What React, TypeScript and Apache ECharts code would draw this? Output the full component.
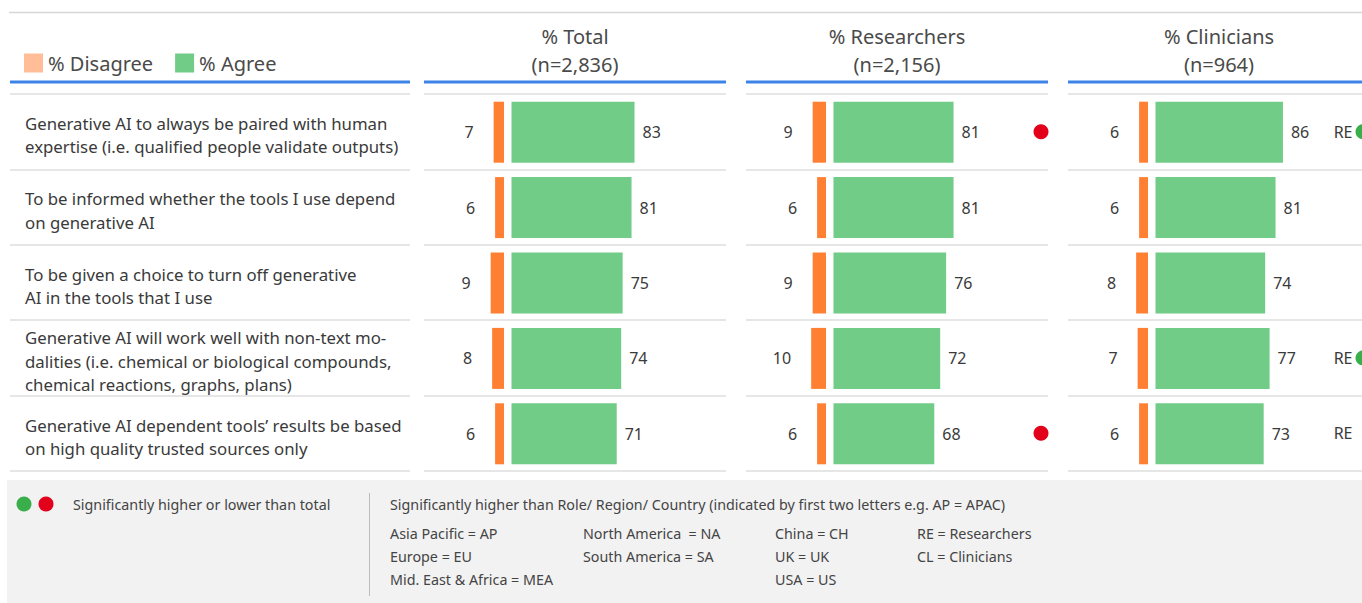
import React, { useEffect, useRef } from "react";
import * as echarts from "echarts";

const categories = [
  "Generative AI to always be paired with human\nexpertise (i.e. qualified people validate outputs)",
  "To be informed whether the tools I use depend\non generative AI",
  "To be given a choice to turn off generative\nAI in the tools that I use",
  "Generative AI will work well with non-text mo-\ndalities (i.e. chemical or biological compounds,\nchemical reactions, graphs, plans)",
  "Generative AI dependent tools’ results be based\non high quality trusted sources only",
];

const panelTitles = ["% Total\n(n=2,836)", "% Researchers\n(n=2,156)", "% Clinicians\n(n=964)"];

const totalDisagree = [7, 6, 9, 8, 6];
const totalAgree = [83, 81, 75, 74, 71];
const researchersDisagree = [9, 6, 9, 10, 6];
const researchersAgree = [81, 81, 76, 72, 68];
const cliniciansDisagree = [6, 6, 8, 7, 6];
const cliniciansAgree = [86, 81, 74, 77, 73];

// significance markers per row: dot colour ("higher" / "lower" / "") and letter label
const totalSigDot = ["", "", "", "", ""];
const totalSigLabel = ["", "", "", "", ""];
const researchersSigDot = ["lower", "", "", "", "lower"];
const researchersSigLabel = ["", "", "", "", ""];
const cliniciansSigDot = ["higher", "", "", "higher", ""];
const cliniciansSigLabel = ["RE", "", "", "RE", "RE"];

const footerLeft = "Significantly higher or lower than total";
const footerTitle = "Significantly higher than Role/ Region/ Country (indicated by first two letters e.g. AP = APAC)";
const footerColumns = [
  ["Asia Pacific = AP", "Europe = EU", "Mid. East & Africa = MEA"],
  ["North America  = NA", "South America = SA"],
  ["China = CH", "UK = UK", "USA = US"],
  ["RE = Researchers", "CL = Clinicians"],
];

const FONT = '"Noto Sans", "Open Sans", sans-serif';
const ORANGE = "#FF7F33";
const PEACH = "#FFBE98";
const GREEN = "#71CC87";
const SIG_GREEN = "#3AAE4B";
const SIG_RED = "#E2001A";
const TEXT = "#3A3A3A";
const SEP = "#E6E6E6";
const BLUE = "#3D84E8";

const panels = [
  { disagree: totalDisagree, agree: totalAgree, sigDot: totalSigDot, sigLabel: totalSigLabel },
  { disagree: researchersDisagree, agree: researchersAgree, sigDot: researchersSigDot, sigLabel: researchersSigLabel },
  { disagree: cliniciansDisagree, agree: cliniciansAgree, sigDot: cliniciansSigDot, sigLabel: cliniciansSigLabel },
];

const PANEL_LEFT = [424, 746, 1068];
const PANEL_W = 302;
const GRID_TOP = 94;
const GRID_H = 377;
const PX_PER_UNIT = 1.482;
const DIS_MAX = 20;
const AGREE_MAX = 100;

function buildOption() {
  const grid: any[] = [];
  const xAxis: any[] = [];
  const yAxis: any[] = [];
  const series: any[] = [];

  const hiddenX = (gi: number, extra: any = {}) => ({
    type: "value",
    gridIndex: gi,
    show: false,
    ...extra,
  });
  const catY = (gi: number, extra: any = {}) => ({
    type: "category",
    gridIndex: gi,
    data: categories,
    inverse: true,
    axisLine: { show: false },
    axisTick: { show: false },
    axisLabel: { show: false },
    splitLine: { show: false },
    ...extra,
  });

  // left text column: separators
  grid.push({ left: 10, width: 400, top: GRID_TOP, height: GRID_H, outerBoundsMode: "none" });
  xAxis.push(hiddenX(0, { min: 0, max: 1 }));
  yAxis.push(catY(0, { splitLine: { show: true, lineStyle: { color: SEP, width: 2 } } }));
  // left text column: labels (nudged down to match the reference baseline)
  grid.push({ left: 10, width: 400, top: GRID_TOP + 3.5, height: GRID_H, outerBoundsMode: "none" });
  xAxis.push(hiddenX(1, { min: 0, max: 1 }));
  yAxis.push(
    catY(1, {
      axisLabel: {
        show: true,
        inside: true,
        margin: 15,
        fontFamily: FONT,
        fontSize: 16.8,
        lineHeight: 23.5,
        color: TEXT,
        align: "left",
      },
    })
  );

  panels.forEach((p, i) => {
    const L = PANEL_LEFT[i];
    const fi = grid.length;
    // frame grid (separators + significance markers)
    grid.push({ left: L, width: PANEL_W, top: GRID_TOP, height: GRID_H, outerBoundsMode: "none" });
    xAxis.push(hiddenX(fi, { min: 0, max: PANEL_W }));
    yAxis.push(catY(fi, { splitLine: { show: true, lineStyle: { color: SEP, width: 2 } } }));

    // disagree grid (inverse)
    const di = grid.length;
    const disW = DIS_MAX * PX_PER_UNIT;
    grid.push({ left: L + 80 - disW, width: disW, top: GRID_TOP + 0.5, height: GRID_H, outerBoundsMode: "none" });
    xAxis.push(hiddenX(di, { min: 0, max: DIS_MAX, inverse: true }));
    yAxis.push(catY(di));

    // agree grid
    const ai = grid.length;
    grid.push({ left: L + 87.5, width: AGREE_MAX * PX_PER_UNIT, top: GRID_TOP + 0.5, height: GRID_H, outerBoundsMode: "none" });
    xAxis.push(hiddenX(ai, { min: 0, max: AGREE_MAX }));
    yAxis.push(catY(ai));

    series.push({
      type: "bar",
      name: "% Disagree",
      xAxisIndex: di,
      yAxisIndex: di,
      data: p.disagree,
      barWidth: 61,
      itemStyle: { color: ORANGE },
      label: {
        show: true,
        position: "left",
        distance: 20,
        fontFamily: FONT,
        fontSize: 16,
        color: TEXT,
      },
    });
    series.push({
      type: "bar",
      name: "% Agree",
      xAxisIndex: ai,
      yAxisIndex: ai,
      data: p.agree,
      barWidth: 61,
      itemStyle: { color: GREEN },
      label: {
        show: true,
        position: "right",
        distance: 8,
        fontFamily: FONT,
        fontSize: 16,
        color: TEXT,
      },
    });

    const sigData: any[] = [];
    p.sigDot.forEach((d, r) => {
      const lab = p.sigLabel[r];
      if (!d && !lab) return;
      sigData.push({
        value: [295, r],
        itemStyle: {
          color: d === "higher" ? SIG_GREEN : d === "lower" ? SIG_RED : "rgba(0,0,0,0)",
          opacity: 1,
        },
        label: { show: !!lab, formatter: lab },
      });
    });
    if (sigData.length) {
      series.push({
        type: "scatter",
        name: "sig" + i,
        xAxisIndex: fi,
        yAxisIndex: fi,
        symbol: "circle",
        symbolSize: 15,
        itemStyle: { opacity: 1 },
        data: sigData,
        label: {
          position: "left",
          distance: 3,
          fontFamily: FONT,
          fontSize: 16,
          color: TEXT,
        },
      });
    }
  });

  const graphic: any[] = [];
  graphic.push({
    type: "line",
    shape: { x1: 9, y1: 12.5, x2: 1362, y2: 12.5 },
    style: { stroke: "#D6D6D6", lineWidth: 1.5 },
    silent: true,
  });
  const blueSegs = [[10, 410], ...PANEL_LEFT.map((l) => [l, l + PANEL_W])];
  blueSegs.forEach(([a, b]) =>
    graphic.push({
      type: "line",
      shape: { x1: a, y1: 82, x2: b, y2: 82 },
      style: { stroke: BLUE, lineWidth: 3 },
      silent: true,
    })
  );
  panelTitles.forEach((t, i) =>
    graphic.push({
      type: "text",
      x: PANEL_LEFT[i] + PANEL_W / 2,
      y: 50.5,
      style: {
        text: t,
        fontFamily: FONT,
        fontSize: 20,
        lineHeight: 27.5,
        fill: "#4A4A4A",
        align: "center",
        verticalAlign: "middle",
      },
      silent: true,
    })
  );

  // footer
  graphic.push({
    type: "rect",
    shape: { x: 7, y: 480, width: 1360, height: 130 },
    style: { fill: "#F2F2F2" },
    silent: true,
  });
  graphic.push({ type: "circle", shape: { cx: 24, cy: 504, r: 7.5 }, style: { fill: SIG_GREEN }, silent: true });
  graphic.push({ type: "circle", shape: { cx: 46, cy: 504, r: 7.5 }, style: { fill: SIG_RED }, silent: true });
  graphic.push({
    type: "line",
    shape: { x1: 369.5, y1: 493, x2: 369.5, y2: 596 },
    style: { stroke: "#BDBDBD", lineWidth: 1 },
    silent: true,
  });
  const ftext = (text: string, x: number, y: number) => ({
    type: "text",
    x,
    y,
    style: {
      text,
      fontFamily: FONT,
      fontSize: 14.3,
      fill: "#444444",
      align: "left",
      verticalAlign: "middle",
    },
    silent: true,
  });
  graphic.push(ftext(footerLeft, 73, 504.5));
  graphic.push(ftext(footerTitle, 390, 504.5));
  const colX = [390, 583, 775, 917];
  const rowY = [533.5, 556.5, 579.5];
  footerColumns.forEach((col, ci) =>
    col.forEach((t, ri) => graphic.push(ftext(t, colX[ci], rowY[ri])))
  );

  return {
    animation: false,
    backgroundColor: "#FFFFFF",
    textStyle: { fontFamily: FONT },
    legend: {
      left: 19,
      top: 48,
      icon: "rect",
      itemWidth: 19,
      itemHeight: 19,
      itemGap: 22,
      selectedMode: false,
      textStyle: { fontFamily: FONT, fontSize: 20, color: "#4A4A4A" },
      data: [
        { name: "% Disagree", itemStyle: { color: PEACH } },
        { name: "% Agree", itemStyle: { color: GREEN } },
      ],
    },
    grid,
    xAxis,
    yAxis,
    series,
    graphic,
  };
}

export default function App() {
  const ref = useRef<HTMLDivElement>(null);
  useEffect(() => {
    if (!ref.current) return;
    const chart = echarts.init(ref.current, null, { renderer: "svg" });
    chart.setOption(buildOption() as any);
    return () => chart.dispose();
  }, []);
  return (
    <div
      ref={ref}
      style={{ position: "fixed", left: 0, top: 0, width: 1362, height: 603, overflow: "hidden" }}
    />
  );
}
